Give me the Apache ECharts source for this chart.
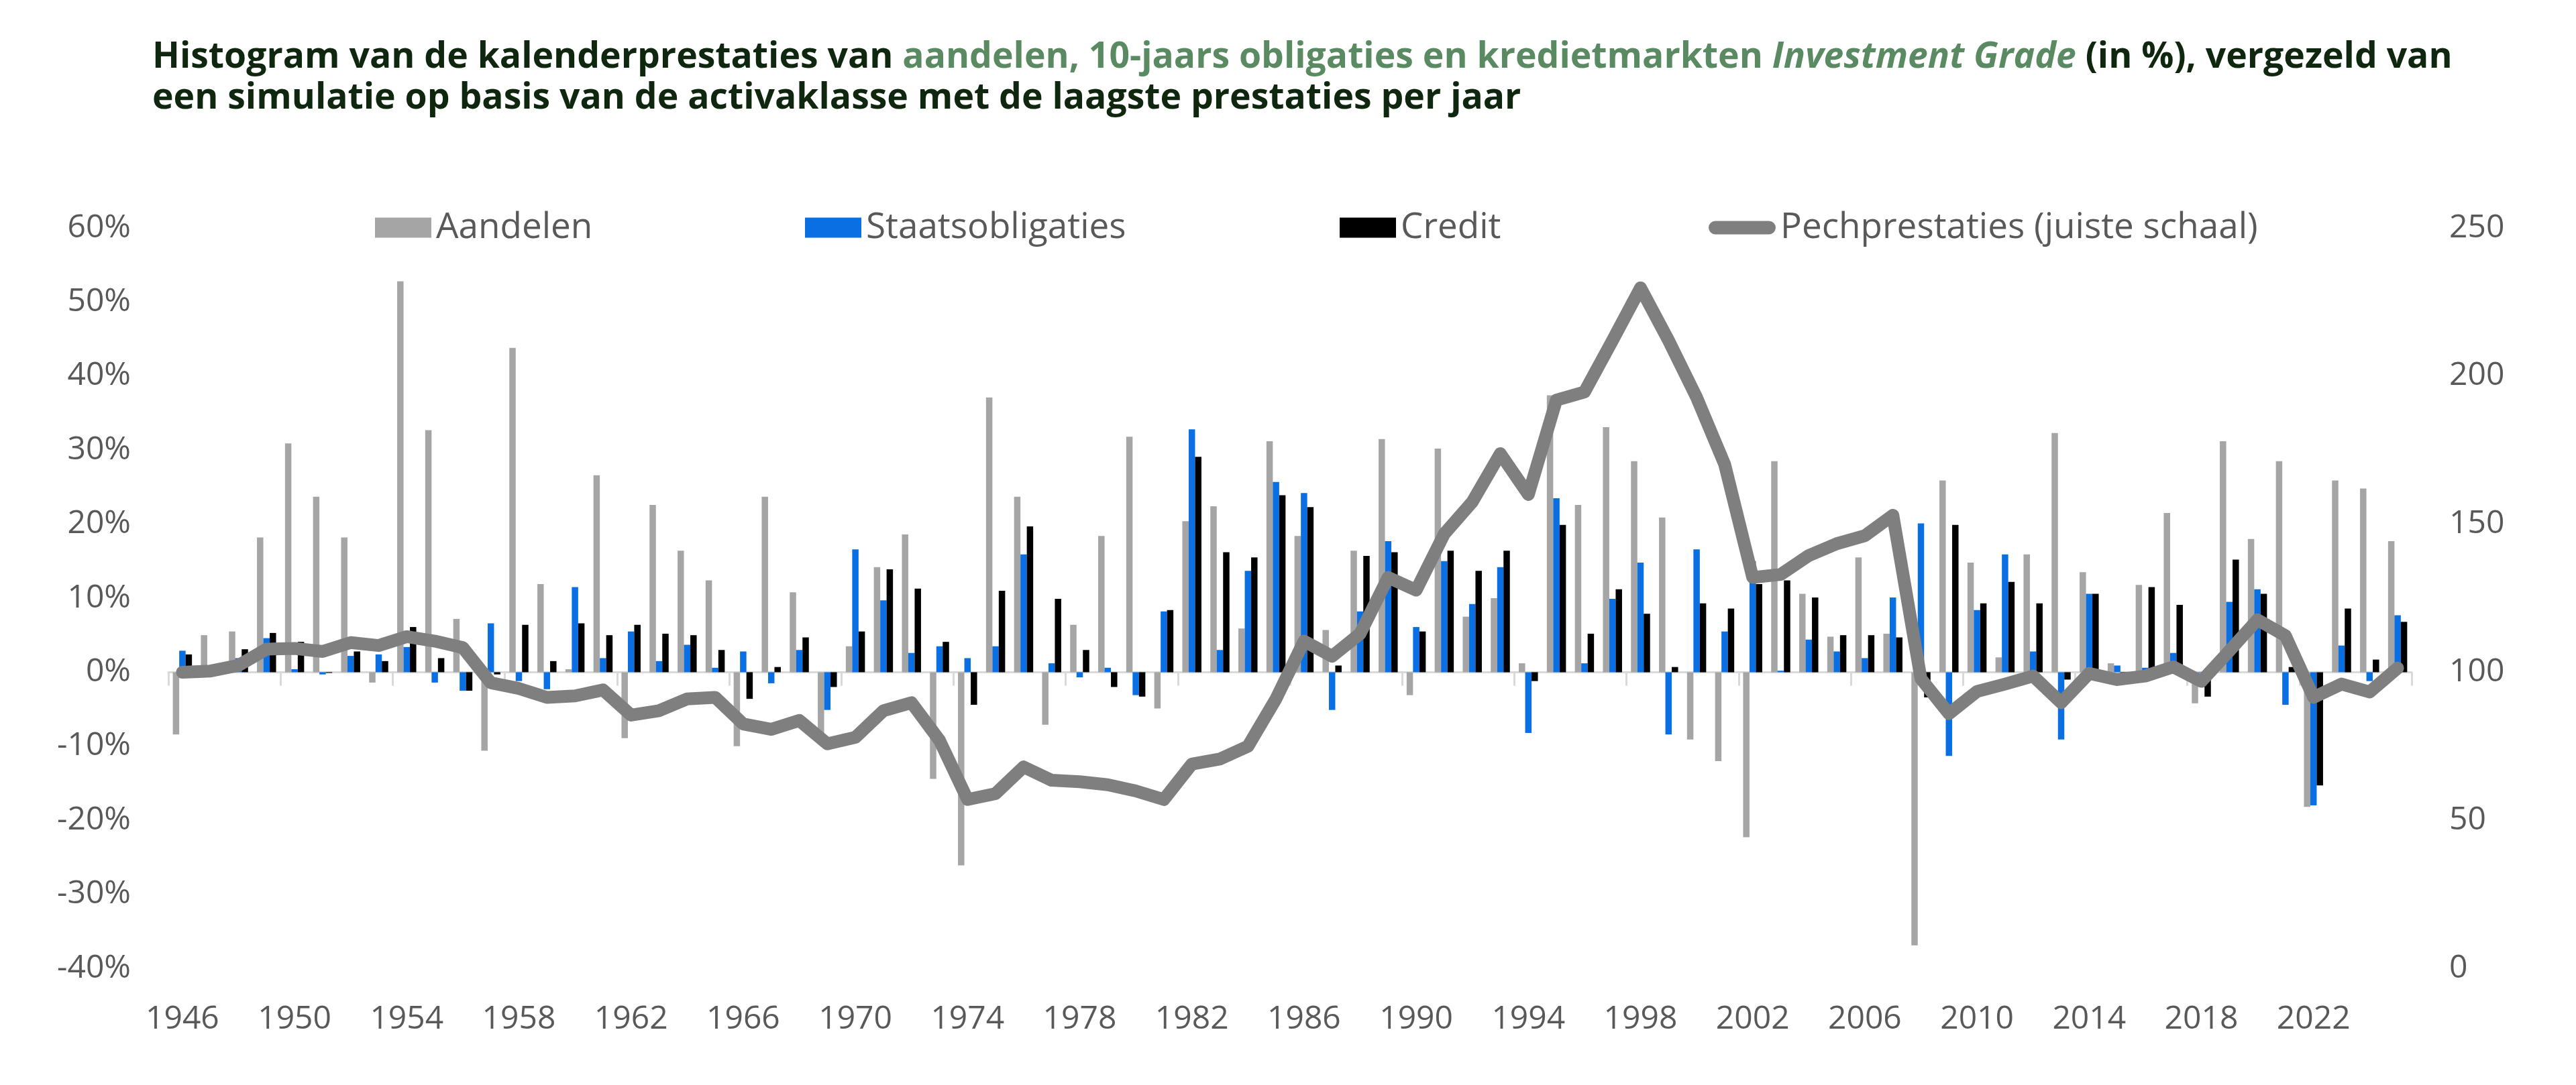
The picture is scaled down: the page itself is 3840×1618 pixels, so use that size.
<!DOCTYPE html>
<html>
<head>
<meta charset="utf-8">
<title>Kalenderprestaties</title>
<script src="https://cdn.jsdelivr.net/npm/echarts@6/dist/echarts.min.js"></script>
<style>
  html, body { margin: 0; padding: 0; background: #fff; }
  #main { width: 3840px; height: 1618px; }
</style>
</head>
<body>
<div id="main"></div>
<script>
var years = [];
for (var y = 1946; y <= 2025; y++) years.push(String(y));

// jaarlijkse rendementen in %
var aandelen = [
  -8.4, 5.0, 5.5, 18.2, 30.9, 23.7, 18.2, -1.4, 52.8, 32.7,
  7.2, -10.6, 43.8, 11.9, 0.4, 26.6, -8.9, 22.6, 16.4, 12.4,
  -10.0, 23.7, 10.8, -8.5, 3.5, 14.2, 18.6, -14.4, -26.1, 37.1,
  23.7, -7.1, 6.4, 18.4, 31.8, -4.9, 20.4, 22.4, 5.9, 31.2,
  18.4, 5.7, 16.4, 31.5, -3.1, 30.2, 7.5, 10.0, 1.2, 37.4,
  22.6, 33.1, 28.5, 20.9, -9.1, -12.0, -22.3, 28.5, 10.6, 4.8,
  15.5, 5.2, -36.9, 25.9, 14.8, 2.0, 15.9, 32.3, 13.5, 1.2,
  11.8, 21.5, -4.2, 31.2, 18.0, 28.5, -18.2, 25.9, 24.8, 17.7
];
var staatsobligaties = [
  2.9, 0.4, 1.9, 4.6, 0.4, -0.3, 2.2, 2.4, 3.4, -1.4,
  -2.5, 6.6, -1.2, -2.3, 11.5, 1.9, 5.5, 1.5, 3.7, 0.6,
  2.8, -1.5, 3.0, -5.1, 16.6, 9.7, 2.6, 3.5, 1.9, 3.5,
  15.9, 1.2, -0.7, 0.6, -3.1, 8.2, 32.8, 3.0, 13.7, 25.7,
  24.2, -5.1, 8.2, 17.7, 6.1, 15.0, 9.2, 14.2, -8.2, 23.5,
  1.2, 9.9, 14.8, -8.4, 16.6, 5.5, 15.0, 0.2, 4.4, 2.8,
  1.9, 10.1, 20.1, -11.3, 8.4, 15.9, 2.8, -9.1, 10.6, 0.9,
  0.6, 2.6, -0.1, 9.5, 11.2, -4.4, -18.0, 3.6, -1.2, 7.7
];
var credit = [
  2.4, 0.2, 3.1, 5.3, 4.1, -0.1, 2.8, 1.5, 6.1, 1.9,
  -2.5, -0.3, 6.4, 1.5, 6.6, 5.0, 6.4, 5.2, 5.0, 3.0,
  -3.6, 0.7, 4.7, -2.0, 5.5, 13.9, 11.3, 4.1, -4.4, 11.0,
  19.7, 9.9, 3.0, -2.0, -3.3, 8.4, 29.1, 16.2, 15.5, 23.9,
  22.3, 0.9, 15.7, 16.2, 5.5, 16.4, 13.7, 16.4, -1.2, 19.9,
  5.2, 11.2, 7.9, 0.7, 9.3, 8.6, 11.9, 12.4, 10.1, 5.0,
  5.0, 4.7, -3.4, 19.9, 9.3, 12.2, 9.3, -1.0, 10.6, -0.3,
  11.5, 9.1, -3.3, 15.2, 10.6, 0.7, -15.3, 8.6, 1.7, 6.8
];
// simulatie met telkens de slechtste activaklasse (rechter schaal)
var pech = [
  100, 100.4, 102.3, 107.8, 108, 107, 110, 109, 112, 110.5,
  108.3, 96.4, 94.5, 91.5, 92, 94, 85.5, 87, 91, 91.5,
  82.5, 80.7, 83.7, 75.8, 78, 87, 89.7, 77, 57, 59,
  68, 63.5, 63, 62, 59.9, 57, 69, 70.7, 75, 91,
  110.5, 105.4, 113, 132, 127.7, 146.7, 157.5, 173.8, 160, 191.9,
  194.6, 212, 229.8, 212, 192.8, 170.2, 132, 133, 139.4, 143.4,
  146.1, 153, 97.8, 86, 93.5, 96, 98.7, 89.7, 99.6, 97.5,
  98.7, 101.8, 96.9, 107.2, 117.7, 112.3, 91.5, 96, 93.3, 101.4
];

var font = 'Open Sans';
var labelColor = '#595959';

var chart = echarts.init(document.getElementById('main'));

function legendAt(name, left, w, h, icon) {
  var d = {name: name};
  if (icon) d.icon = icon;
  return {
    left: left, top: 313,
    orient: 'horizontal',
    itemWidth: w, itemHeight: h, itemGap: 0,
    selectedMode: false,
    padding: 0,
    textStyle: {fontFamily: font, fontSize: 53, color: labelColor, padding: [0, 0, 0, 2]},
    data: [d]
  };
}

var pillIcon = 'path://M10,0 L90,0 A10,10 0 0 1 90,20 L10,20 A10,10 0 0 1 10,0 Z';

var option = {
  backgroundColor: '#ffffff',
  animation: false,
  title: {
    left: 222, top: 50,
    text: '{b|Histogram van de kalenderprestaties van }{g|aandelen, 10-jaars obligaties en kredietmarkten }{gi|Investment Grade}{b| (in %), vergezeld van}\n{b|een simulatie op basis van de activaklasse met de laagste prestaties per jaar}',
    textStyle: {
      rich: {
        b: {fontFamily: font, fontWeight: 'bold', fontSize: 53.5, color: '#10270f', lineHeight: 61},
        g: {fontFamily: font, fontWeight: 'bold', fontSize: 53.5, color: '#5a8a62', lineHeight: 61},
        gi: {fontFamily: font, fontWeight: 'bold', fontStyle: 'italic', fontSize: 53.5, color: '#5a8a62', lineHeight: 61}
      }
    }
  },
  legend: [
    legendAt('Aandelen', 559, 84, 30, 'rect'),
    legendAt('Staatsobligaties', 1200, 84, 30, 'rect'),
    legendAt('Credit', 1997, 84, 30, 'rect'),
    legendAt('Pechprestaties (juiste schaal)', 2547, 100, 20, pillIcon)
  ],
  grid: {left: 251, right: 245, top: 340, bottom: 174},
  xAxis: [
    {
      type: 'category',
      data: years,
      axisLine: {show: false, onZero: false},
      axisTick: {show: false},
      axisLabel: {interval: 3, fontFamily: font, fontSize: 48, color: labelColor, margin: 52}
    },
    {
      type: 'category',
      data: years,
      position: 'bottom',
      axisLine: {show: true, onZero: true, onZeroAxisIndex: 0, lineStyle: {color: '#d9d9d9', width: 3}},
      axisTick: {show: true, interval: 3, length: 20, lineStyle: {color: '#d9d9d9', width: 3}},
      axisLabel: {show: false},
      z: 1
    }
  ],
  yAxis: [
    {
      type: 'value', min: -40, max: 60, interval: 10,
      splitLine: {show: false},
      axisLine: {show: false}, axisTick: {show: false},
      axisLabel: {formatter: '{value}%', fontFamily: font, fontSize: 48, color: labelColor, margin: 56}
    },
    {
      type: 'value', min: 0, max: 250, interval: 50,
      splitLine: {show: false},
      axisLine: {show: false}, axisTick: {show: false},
      axisLabel: {fontFamily: font, fontSize: 48, color: labelColor, margin: 56}
    }
  ],
  series: [
    {name: 'Aandelen', type: 'bar', data: aandelen, barWidth: 9.5, barGap: '0%',
     itemStyle: {color: '#a5a5a5'}},
    {name: 'Staatsobligaties', type: 'bar', data: staatsobligaties, barWidth: 9.5, barGap: '0%',
     itemStyle: {color: '#0a6fe3'}},
    {name: 'Credit', type: 'bar', data: credit, barWidth: 9.5, barGap: '0%',
     itemStyle: {color: '#000000'}},
    {name: 'Pechprestaties (juiste schaal)', type: 'line', yAxisIndex: 1, data: pech,
     symbol: 'none', z: 5,
     itemStyle: {color: '#7f7f7f'},
     lineStyle: {color: '#7f7f7f', width: 19, cap: 'round', join: 'round'}}
  ]
};

chart.setOption(option);
</script>
</body>
</html>
